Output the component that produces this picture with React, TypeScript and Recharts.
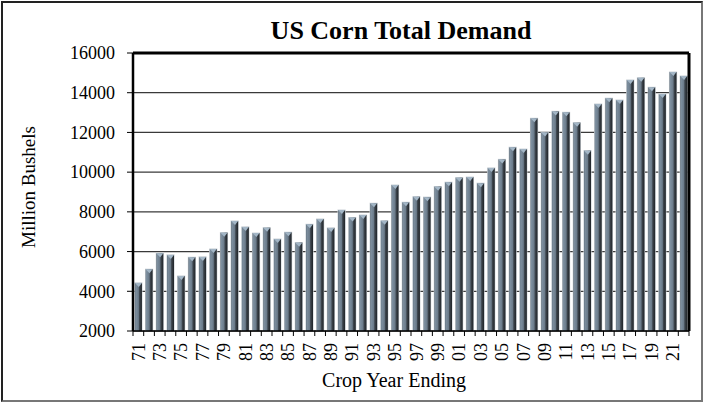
import React from 'react';
import { BarChart, Bar, XAxis, YAxis, CartesianGrid, ReferenceLine } from 'recharts';

const years = [
  '71', '72', '73', '74', '75', '76', '77', '78', '79', '80',
  '81', '82', '83', '84', '85', '86', '87', '88', '89', '90',
  '91', '92', '93', '94', '95', '96', '97', '98', '99', '00',
  '01', '02', '03', '04', '05', '06', '07', '08', '09', '10',
  '11', '12', '13', '14', '15', '16', '17', '18', '19', '20',
  '21', '22',
];

const demand = [
  4420, 5110, 5910, 5830, 4770, 5710, 5730, 6130, 6950, 7540,
  7240, 6930, 7200, 6630, 6970, 6450, 7370, 7640, 7190, 8090,
  7710, 7840, 8430, 7550, 9350, 8480, 8760, 8740, 9270, 9490,
  9720, 9750, 9440, 10210, 10640, 11250, 11160, 12710, 12000, 13060,
  13010, 12490, 11080, 13430, 13720, 13630, 14640, 14750, 14270, 13930,
  15040, 14840,
];

const yTicks = [2000, 4000, 6000, 8000, 10000, 12000, 14000, 16000];

const data = years.map((year, i) => ({ year, demand: demand[i] }));

const FONT = '"Liberation Serif", "Times New Roman", serif';
const CHART_W = 705;
const CHART_H = 403;
const MARGIN = { top: 53, right: 15, bottom: 0, left: 0 };
const Y_AXIS_W = 133;
const X_AXIS_H = 72;
const PLOT_W = CHART_W - MARGIN.left - MARGIN.right - Y_AXIS_W - 1;
const BAND = PLOT_W / years.length;

const BarShape = (props: any) => {
  const { x, y, width, height } = props;
  if (!height || height <= 0) return null;
  const cap = Math.min(4, height);
  return (
    <g>
      <rect x={x - 0.6} y={y - 0.6} width={width + 1.2} height={height + 0.6} fill="#cfd5da" />
      <rect x={x} y={y} width={width} height={height} fill="url(#barGrad)" />
      <polygon
        points={`${x},${y} ${x + width},${y} ${x + width * 0.55},${y + cap}`}
        fill="#a3b6c6"
      />
    </g>
  );
};

const XTick = (props: any) => {
  const { x, y, payload, index } = props;
  const half = BAND / 2;
  const isLast = index === years.length - 1;
  return (
    <g>
      <line x1={x - half} y1={y - 8} x2={x - half} y2={y - 3} stroke="#000" strokeWidth={1} />
      {isLast && (
        <line x1={x + half} y1={y - 8} x2={x + half} y2={y - 3} stroke="#000" strokeWidth={1} />
      )}
      {index % 2 === 0 && (
        <text
          x={x}
          y={y + 4}
          dy="0.35em"
          transform={`rotate(-90, ${x}, ${y + 4})`}
          textAnchor="end"
          style={{ fontFamily: FONT, fontSize: 18 }}
          fill="#000"
        >
          {payload.value}
        </text>
      )}
    </g>
  );
};

const YTick = (props: any) => {
  const { x, y, payload } = props;
  return (
    <text
      x={x - 8}
      y={y}
      dy="0.35em"
      textAnchor="end"
      style={{ fontFamily: FONT, fontSize: 18 }}
      fill="#000"
    >
      {payload.value}
    </text>
  );
};

const YLabel = (props: any) => {
  const vb = props.viewBox || {};
  const cx = 28;
  const cy = vb.y + vb.height / 2 - 5;
  return (
    <text
      x={cx}
      y={cy}
      dy="0.35em"
      transform={`rotate(-90, ${cx}, ${cy})`}
      textAnchor="middle"
      style={{ fontFamily: FONT, fontSize: 19 }}
      fill="#000"
    >
      Million Bushels
    </text>
  );
};

const XLabel = (props: any) => {
  const vb = props.viewBox || {};
  const cx = vb.x + vb.width / 2 - 17;
  return (
    <text
      x={cx}
      y={387}
      textAnchor="middle"
      style={{ fontFamily: FONT, fontSize: 20 }}
      fill="#000"
    >
      Crop Year Ending
    </text>
  );
};

export default function App() {
  return (
    <div style={{ position: 'absolute', left: 0, top: 0, width: CHART_W, height: CHART_H, background: '#fff', fontFamily: FONT }}>
      <div
        style={{
          position: 'absolute',
          left: 1,
          top: 1,
          width: 702,
          height: 401,
          boxSizing: 'border-box',
          borderTop: '2px solid #222',
          borderLeft: '2px solid #222',
          borderRight: '2px solid #777',
          borderBottom: '2px solid #777',
          pointerEvents: 'none',
        }}
      />
      <div
        style={{
          position: 'absolute',
          left: 201,
          top: 16,
          width: 400,
          textAlign: 'center',
          fontFamily: FONT,
          fontWeight: 'bold',
          fontSize: 26,
          lineHeight: '30px',
          color: '#000',
        }}
      >
        US Corn Total Demand
      </div>
      <div style={{ position: 'absolute', left: 0, top: 0 }}>
        <BarChart
          width={CHART_W}
          height={CHART_H}
          data={data}
          margin={MARGIN}
          barCategoryGap="18%"
          style={{ fontFamily: FONT }}
        >
          <defs>
            <linearGradient id="barGrad" x1="0" y1="0" x2="1" y2="0">
              <stop offset="0%" stopColor="#5a6874" />
              <stop offset="12%" stopColor="#7e90a0" />
              <stop offset="50%" stopColor="#6b7b8a" />
              <stop offset="66%" stopColor="#3d454d" />
              <stop offset="100%" stopColor="#1f2327" />
            </linearGradient>
          </defs>
          <CartesianGrid vertical={false} stroke="#3a3a3a" strokeWidth={1.2} />
          <XAxis
            dataKey="year"
            interval={0}
            height={X_AXIS_H}
            tickLine={false}
            axisLine={{ stroke: '#000', strokeWidth: 1.5 }}
            tick={<XTick />}
            label={<XLabel />}
          />
          <YAxis
            width={Y_AXIS_W}
            domain={[2000, 16000]}
            ticks={yTicks}
            interval={0}
            allowDataOverflow
            tickLine={{ stroke: '#000' }}
            tickSize={6}
            tickMargin={4}
            axisLine={{ stroke: '#000', strokeWidth: 2.5 }}
            tick={<YTick />}
            label={<YLabel />}
          />
          <YAxis
            yAxisId="right"
            orientation="right"
            width={1}
            domain={[2000, 16000]}
            tick={false}
            tickLine={false}
            axisLine={{ stroke: '#000', strokeWidth: 3 }}
          />
          <ReferenceLine y={16000} stroke="#000" strokeWidth={3} />
          <Bar dataKey="demand" shape={<BarShape />} isAnimationActive={false} />
        </BarChart>
      </div>
    </div>
  );
}
